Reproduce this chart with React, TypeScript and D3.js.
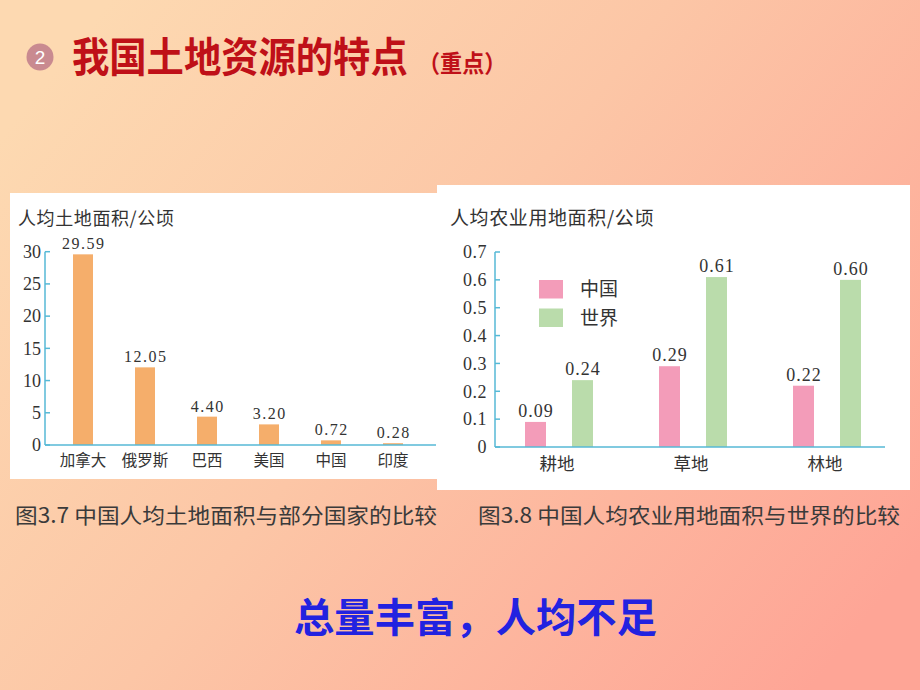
import React from "react";
import * as d3 from "d3";

// Fig 3.7 — per-capita land area by country (hectares)
const countries = ["加拿大", "俄罗斯", "巴西", "美国", "中国", "印度"];
const landValues = [29.59, 12.05, 4.4, 3.2, 0.72, 0.28];
const landTicks = [0, 5, 10, 15, 20, 25, 30];

// Fig 3.8 — per-capita agricultural land, China vs world (hectares)
const landTypes = ["耕地", "草地", "林地"];
const seriesNames = ["中国", "世界"];
const chinaValues = [0.09, 0.29, 0.22];
const worldValues = [0.24, 0.61, 0.6];
const agriTicks = [0, 0.1, 0.2, 0.3, 0.4, 0.5, 0.6, 0.7];

const AXIS = "#56b9d6";
const ORANGE = "#f5ae6b";
const PINK = "#f39cb9";
const GREEN = "#badcab";
const SERIF = "'Liberation Serif', 'DejaVu Serif', 'Noto Sans CJK SC', serif";
const CJK = "'Noto Sans CJK SC', sans-serif";

function LandChart() {
  const y = d3.scaleLinear().domain([0, 30]).range([445, 251.7]);
  const x = d3.scalePoint<string>().domain(countries).range([83, 393]);
  const barW = 20;
  const axisX = 45;

  return (
    <g>
      <rect x={10} y={193} width={427} height={286} fill="#fff" />
      <text x={18} y={225} fontFamily={CJK} fontSize={18} fill="#333" letterSpacing={0.6}>
        人均土地面积/公顷
      </text>
      {countries.map((c, i) => (
        <g key={c}>
          <rect
            x={(x(c) as number) - barW / 2}
            y={y(landValues[i])}
            width={barW}
            height={y(0) - y(landValues[i])}
            fill={ORANGE}
          />
          <text
            x={(x(c) as number) + 0.75}
            y={y(landValues[i]) - 5}
            textAnchor="middle"
            fontFamily={SERIF}
            fontSize={16}
            letterSpacing={1.5}
            fill="#333"
          >
            {landValues[i].toFixed(2)}
          </text>
          <text x={x(c)} y={466} textAnchor="middle" fontFamily={CJK} fontSize={15.5} fill="#333">
            {c}
          </text>
        </g>
      ))}
      <line x1={axisX} x2={axisX} y1={y(30)} y2={y(0)} stroke={AXIS} strokeWidth={1.5} />
      <line x1={axisX} x2={436} y1={y(0)} y2={y(0)} stroke={AXIS} strokeWidth={1.5} />
      {landTicks.map((t) => (
        <g key={t}>
          <line x1={axisX} x2={axisX + 5} y1={y(t)} y2={y(t)} stroke={AXIS} strokeWidth={1.5} />
          <text
            x={41}
            y={y(t)}
            dy="0.35em"
            textAnchor="end"
            fontFamily={SERIF}
            fontSize={18}
            fill="#333"
          >
            {t}
          </text>
        </g>
      ))}
    </g>
  );
}

function AgriChart() {
  const y = d3.scaleLinear().domain([0, 0.7]).range([447, 252]);
  const x = d3.scalePoint<string>().domain(landTypes).range([559, 827]);
  const inner = d3.scalePoint<string>().domain(seriesNames).range([-23.5, 23.5]);
  const barW = 21;
  const axisX = 495;
  const series = [chinaValues, worldValues];
  const colors = [PINK, GREEN];

  return (
    <g>
      <rect x={437} y={185} width={473} height={305} fill="#fff" />
      <text x={450} y={225} fontFamily={CJK} fontSize={19} fill="#333" letterSpacing={0.6}>
        人均农业用地面积/公顷
      </text>
      {landTypes.map((c, i) => (
        <g key={c}>
          {series.map((vals, s) => {
            const cx = (x(c) as number) + (inner(seriesNames[s]) as number);
            return (
              <g key={s}>
                <rect
                  x={cx - barW / 2}
                  y={y(vals[i])}
                  width={barW}
                  height={y(0) - y(vals[i])}
                  fill={colors[s]}
                />
                <text
                  x={cx + 0.5}
                  y={y(vals[i]) - 5}
                  textAnchor="middle"
                  fontFamily={SERIF}
                  fontSize={18}
                  letterSpacing={1}
                  fill="#333"
                >
                  {vals[i].toFixed(2)}
                </text>
              </g>
            );
          })}
          <text x={(x(c) as number) - 2} y={470} textAnchor="middle" fontFamily={CJK} fontSize={17.5} fill="#333">
            {c}
          </text>
        </g>
      ))}
      <line x1={axisX} x2={axisX} y1={y(0.7)} y2={y(0)} stroke={AXIS} strokeWidth={1.5} />
      <line x1={axisX} x2={885} y1={y(0)} y2={y(0)} stroke={AXIS} strokeWidth={1.5} />
      {agriTicks.map((t) => (
        <g key={t}>
          <line x1={axisX} x2={axisX + 5} y1={y(t)} y2={y(t)} stroke={AXIS} strokeWidth={1.5} />
          <text
            x={487}
            y={y(t)}
            dy="0.35em"
            textAnchor="end"
            fontFamily={SERIF}
            fontSize={18}
            letterSpacing={0.5}
            fill="#333"
          >
            {t === 0 ? "0" : t.toFixed(1)}
          </text>
        </g>
      ))}
      {/* legend */}
      {seriesNames.map((n, s) => (
        <g key={n}>
          <rect x={539} y={280 + s * 28.5} width={24} height={18.5} fill={colors[s]} />
          <text x={580} y={289 + s * 29} dy="0.36em" fontFamily={CJK} fontSize={19} fill="#333">
            {n}
          </text>
        </g>
      ))}
    </g>
  );
}

export default function App() {
  return (
    <div style={{ position: "absolute", left: 0, top: 0 }}>
      <svg width={920} height={690} style={{ display: "block" }}>
        <defs>
          <linearGradient id="bg" x1="0" y1="0.2" x2="1" y2="0.8">
            <stop offset="0%" stopColor="#fdd9b1" />
            <stop offset="45%" stopColor="#fcc6a6" />
            <stop offset="100%" stopColor="#fea596" />
          </linearGradient>
        </defs>
        <rect width={920} height={690} fill="url(#bg)" />

        {/* heading: condensed bold type */}
        <circle cx={40} cy={57} r={13.5} fill="#c98a90" />
        <text x={40} y={57} dy="0.36em" textAnchor="middle" fill="#fff" fontFamily="'Liberation Sans', Arial, sans-serif" fontSize={19}>
          2
        </text>
        <g transform="translate(72,72) scale(0.91,1)">
          <text x={0} y={0} fontFamily={CJK} fontWeight="bold" fontSize={41} fill="#bf1018">
            我国土地资源的特点
          </text>
        </g>
        <g transform="translate(418,72) scale(0.92,1)">
          <text x={0} y={0} fontFamily={CJK} fontWeight="bold" fontSize={24} fill="#bf1018">
            （重点）
          </text>
        </g>

        <LandChart />
        <AgriChart />

        {/* captions */}
        <text x={15} y={523} fontFamily={CJK} fontSize={21} fill="#3a3a3a" textLength={422} lengthAdjust="spacingAndGlyphs">
          图3.7 中国人均土地面积与部分国家的比较
        </text>
        <text x={478} y={523} fontFamily={CJK} fontSize={21} fill="#3a3a3a" textLength={422} lengthAdjust="spacingAndGlyphs">
          图3.8 中国人均农业用地面积与世界的比较
        </text>

        <text x={294} y={632} fontFamily={CJK} fontWeight="bold" fontSize={40} fill="#2222e0" textLength={363} lengthAdjust="spacingAndGlyphs">
          总量丰富，人均不足
        </text>
      </svg>
    </div>
  );
}
